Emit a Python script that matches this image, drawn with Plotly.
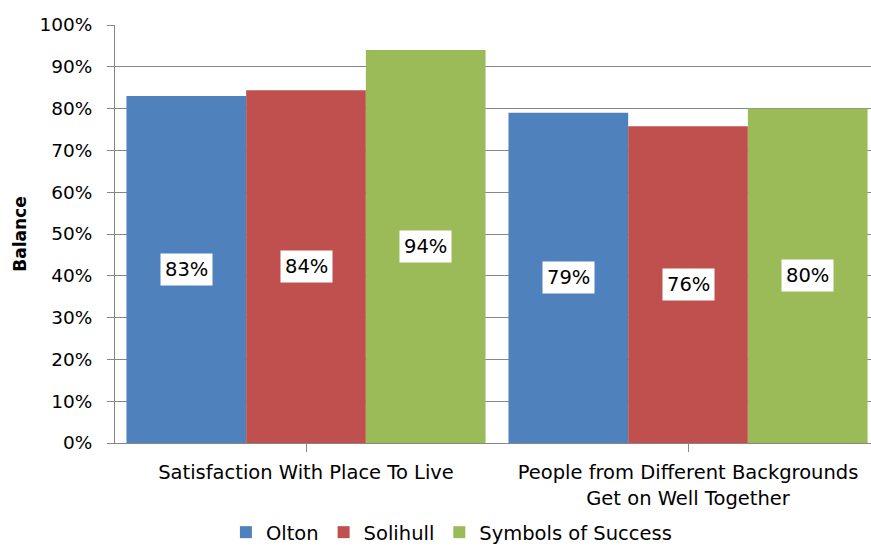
import plotly.graph_objects as go

categories = ["Satisfaction With Place To Live", "People from Different Backgrounds<br>Get on Well Together"]
series_names = ["Olton", "Solihull", "Symbols of Success"]
olton = [0.83, 0.79]
solihull = [0.844, 0.758]
symbols = [0.94, 0.80]
colors = ["#4F81BD", "#C0504D", "#9BBB59"]
y_ticks = [i / 10 for i in range(11)]
y_title = "Balance"

values = [olton, solihull, symbols]
bargap = 0.06
FONT = "DejaVu Sans"

fig = go.Figure()
for name, vals, c in zip(series_names, values, colors):
    fig.add_trace(go.Bar(x=list(range(len(categories))), y=vals, name=name,
                         marker=dict(color=c, line=dict(width=0))))

# data labels: white boxes centred in each bar
n = len(values)
w = (1 - bargap) / n
for i, vals in enumerate(values):
    for j, v in enumerate(vals):
        fig.add_annotation(x=j + (i - (n - 1) / 2) * w, y=v / 2, xref="x", yref="y",
                           text=f"{round(v * 100):.0f}%", showarrow=False,
                           bgcolor="white", borderpad=4,
                           font=dict(family=FONT, size=19.5, color="black"))

# y-axis title
fig.add_annotation(text=f"<b>{y_title}</b>", xref="paper", yref="paper", x=-0.126, y=0.5,
                   xanchor="center", yanchor="middle", textangle=-90, showarrow=False,
                   font=dict(family=FONT, size=17, color="black"))

fig.update_layout(
    width=871, height=552,
    paper_bgcolor="white", plot_bgcolor="white",
    margin=dict(l=115, r=0, t=25, b=109),
    barmode="group", bargap=bargap, bargroupgap=0,
    font=dict(family=FONT, size=19, color="black"),
    legend=dict(orientation="h", x=0.445, xanchor="center", yref="container", y=0.0, yanchor="bottom",
                font=dict(family=FONT, size=19.5), itemwidth=30, traceorder="normal",
                tracegroupgap=0),
    showlegend=True,
)
fig.update_xaxes(tickmode="array", tickvals=list(range(len(categories))), ticktext=categories,
                 range=[-0.5, 1.479], automargin=False,
                 showline=True, linecolor="#868686", linewidth=1,
                 ticks="outside", tickson="boundaries", ticklen=8, tickcolor="#868686",
                 showgrid=False, tickfont=dict(family=FONT, size=19.5), ticklabelstandoff=4)
fig.update_yaxes(range=[0, 1], tickvals=y_ticks, tickformat=".0%", automargin=False,
                 showline=True, linecolor="#868686", linewidth=1,
                 ticks="outside", ticklen=7, tickcolor="#868686",
                 showgrid=True, gridcolor="#868686", gridwidth=1, zeroline=False,
                 tickfont=dict(family=FONT, size=18.5), ticklabelstandoff=11)

fig.write_html("out.html", config={"displayModeBar": False},
               post_script="document.body.style.margin='0';")
